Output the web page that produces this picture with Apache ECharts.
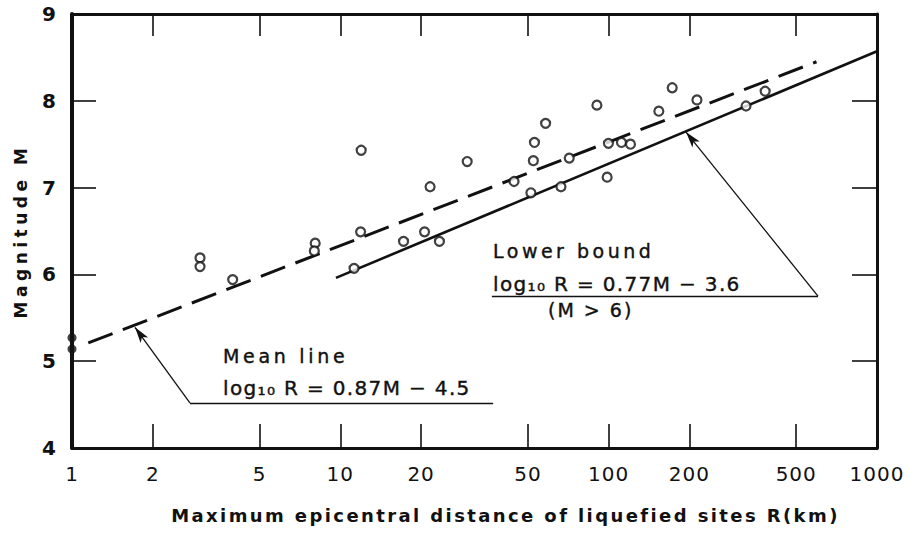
<!DOCTYPE html>
<html><head><meta charset="utf-8">
<script src="https://cdn.jsdelivr.net/npm/echarts@6/dist/echarts.min.js"></script>
<style>html,body{margin:0;padding:0;background:#fff}#wrap{position:relative;width:919px;height:534px}#chart,#ticks{position:absolute;left:0;top:0;width:919px;height:534px}#ticks{pointer-events:none}</style>
</head><body><div id="wrap"><div id="chart"></div><div id="ticks"></div></div>
<script>
// ---- data ----
const xTickLabels = [1, 2, 5, 10, 20, 50, 100, 200, 500, 1000];
const xTickMarks = [2, 5, 10, 20, 50, 100, 200, 500];
const yMin = 4, yMax = 9, xMin = 1, xMax = 1000;

// open circles: R (km) and M
const openR = [3.0, 3.0, 3.97, 8.06, 8.0, 11.25, 11.96, 11.9, 17.2, 20.6, 23.4, 21.6, 29.7, 44.4, 51.3, 52.4, 52.9, 58.2, 66.4, 71.3, 90.4, 98.7, 99.8, 111.6, 120.6, 153.8, 172.5, 213.3, 325, 383];
const openM = [6.19, 6.09, 5.94, 6.36, 6.27, 6.07, 7.43, 6.49, 6.38, 6.49, 6.38, 7.01, 7.30, 7.07, 6.94, 7.31, 7.52, 7.74, 7.01, 7.34, 7.95, 7.12, 7.51, 7.52, 7.50, 7.88, 8.15, 8.01, 7.94, 8.11];
// filled dots on the R = 1 axis
const filledR = [1, 1];
const filledM = [5.27, 5.14];
// mean line (dashed) end points
const meanLineR = [1.15, 595];
const meanLineM = [5.21, 8.45];
// lower bound (solid) end points
const lowerBoundR = [9.63, 1000];
const lowerBoundM = [5.96, 8.57];
// annotation leaders: underline end, corner, arrow tip
const meanLeaderR = [37.1, 2.75, 1.717];
const meanLeaderM = [4.52, 4.52, 5.39];
const lowerLeaderR = [36.7, 602.6, 194.2];
const lowerLeaderM = [5.75, 5.75, 7.64];

const FONT = 'DejaVu Sans';
const INK = '#111';
const GRID = {left: 72, right: 42, top: 14, bottom: 86};

const pairs = (xs, ys) => xs.map((x, i) => [x, ys[i]]);
function seg(a, b, endSymbol) {
  return [{coord: a, symbol: 'none'}, {coord: b, symbol: endSymbol || 'none', symbolSize: [7, 16]}];
}
function leader(xs, ys) {
  return [seg([xs[0], ys[0]], [xs[1], ys[1]]), seg([xs[1], ys[1]], [xs[2], ys[2]], 'arrow')];
}

// ---------- main chart ----------
const chart = echarts.init(document.getElementById('chart'), null, {renderer: 'svg'});

const xBase = {
  type: 'log', logBase: 10, min: xMin, max: xMax, gridIndex: 0,
  splitLine: {show: false}, minorTick: {show: false}, minorSplitLine: {show: false},
  axisTick: {show: false},
  axisLine: {show: true, lineStyle: {color: INK, width: 3}}
};
const yBase = {
  type: 'value', min: yMin, max: yMax, interval: 1, gridIndex: 0,
  splitLine: {show: false}, axisTick: {show: false}
};

chart.setOption({
  animation: false,
  backgroundColor: '#fff',
  textStyle: {fontFamily: FONT, color: INK},
  grid: GRID,
  xAxis: [
    Object.assign({}, xBase, {
      position: 'bottom',
      axisLabel: {show: true, customValues: xTickLabels, formatter: v => String(Math.round(v)),
        margin: 16, fontSize: 20, fontFamily: FONT, color: INK},
      name: 'Maximum epicentral distance of liquefied sites R(km)',
      nameLocation: 'middle', nameGap: 58,
      nameTextStyle: {fontSize: 18, fontWeight: 'bold', fontFamily: FONT, color: INK, padding: [0, 0, 0, 62]}
    }),
    Object.assign({}, xBase, {position: 'top', axisLabel: {show: false}})
  ],
  yAxis: [
    Object.assign({}, yBase, {
      position: 'left',
      axisLine: {show: true, lineStyle: {color: INK, width: 4}},
      axisLabel: {show: true, margin: 15, fontSize: 20, fontWeight: 'bold', fontFamily: FONT, color: INK},
      name: 'Magnitude M', nameLocation: 'middle', nameGap: 43,
      nameTextStyle: {fontSize: 17, fontWeight: 'bold', fontFamily: FONT, color: INK}
    }),
    Object.assign({}, yBase, {
      position: 'right',
      axisLine: {show: true, lineStyle: {color: INK, width: 3}},
      axisLabel: {show: false}
    })
  ],
  series: [
    {
      name: 'Mean line', type: 'line', xAxisIndex: 0, yAxisIndex: 0,
      data: pairs(meanLineR, meanLineM), showSymbol: false, symbol: 'none', silent: true,
      lineStyle: {color: INK, width: 3, type: [26, 11]}, z: 2,
      markLine: {silent: true, symbol: 'none', label: {show: false},
        lineStyle: {color: INK, width: 1.3, type: 'solid'}, data: leader(meanLeaderR, meanLeaderM)}
    },
    {
      name: 'Lower bound', type: 'line', xAxisIndex: 0, yAxisIndex: 0,
      data: pairs(lowerBoundR, lowerBoundM), showSymbol: false, symbol: 'none', silent: true,
      lineStyle: {color: INK, width: 2.6, type: 'solid'}, z: 2,
      markLine: {silent: true, symbol: 'none', label: {show: false},
        lineStyle: {color: INK, width: 1.3, type: 'solid'}, data: leader(lowerLeaderR, lowerLeaderM)}
    },
    {
      name: 'Liquefaction cases', type: 'scatter', xAxisIndex: 0, yAxisIndex: 0,
      data: pairs(openR, openM), symbol: 'circle', symbolSize: 9, silent: true, z: 5,
      itemStyle: {color: '#fff', borderColor: INK, borderWidth: 2.2}
    },
    {
      name: 'Filled', type: 'scatter', xAxisIndex: 0, yAxisIndex: 0,
      data: pairs(filledR, filledM), symbol: 'circle', symbolSize: 9, silent: true, z: 6,
      itemStyle: {color: INK}
    }
  ],
  graphic: [
    {type: 'text', x: 493, y: 251, silent: true, style: {text: 'Lower bound', fill: INK, stroke: INK, lineWidth: 0.4, font: '19px "DejaVu Sans"', align: 'left', verticalAlign: 'middle'}},
    {type: 'text', x: 493, y: 284, silent: true, style: {text: 'log\u2081\u2080 R = 0.77M \u2212 3.6', fill: INK, stroke: INK, lineWidth: 0.4, font: '20px "DejaVu Sans"', align: 'left', verticalAlign: 'middle'}},
    {type: 'text', x: 548, y: 310, silent: true, style: {text: '(M > 6)', fill: INK, stroke: INK, lineWidth: 0.4, font: '19px "DejaVu Sans"', align: 'left', verticalAlign: 'middle'}},
    {type: 'text', x: 223, y: 356, silent: true, style: {text: 'Mean line', fill: INK, stroke: INK, lineWidth: 0.4, font: '19px "DejaVu Sans"', align: 'left', verticalAlign: 'middle'}},
    {type: 'text', x: 223, y: 388, silent: true, style: {text: 'log\u2081\u2080 R = 0.87M \u2212 4.5', fill: INK, stroke: INK, lineWidth: 0.4, font: '20px "DejaVu Sans"', align: 'left', verticalAlign: 'middle'}}
  ]
});

// ---------- tick overlay (same grid and scales, only inward ticks) ----------
const tickChart = echarts.init(document.getElementById('ticks'), null, {renderer: 'svg'});
const tickLine = {color: INK, width: 1.6};
tickChart.setOption({
  animation: false,
  grid: GRID,
  xAxis: [
    {type: 'log', min: xMin, max: xMax, position: 'bottom', axisLine: {show: false}, splitLine: {show: false},
      axisLabel: {show: false}, axisTick: {show: true, inside: true, length: 24, customValues: xTickMarks, lineStyle: tickLine}},
    {type: 'log', min: xMin, max: xMax, position: 'top', axisLine: {show: false}, splitLine: {show: false},
      axisLabel: {show: false}, axisTick: {show: true, inside: true, length: 22, customValues: xTickMarks, lineStyle: tickLine}}
  ],
  yAxis: [
    {type: 'value', min: yMin, max: yMax, interval: 1, position: 'left', axisLine: {show: false}, splitLine: {show: false},
      axisLabel: {show: false}, axisTick: {show: true, inside: true, length: 24, lineStyle: tickLine}},
    {type: 'value', min: yMin, max: yMax, interval: 1, position: 'right', axisLine: {show: false}, splitLine: {show: false},
      axisLabel: {show: false}, axisTick: {show: true, inside: true, length: 25, lineStyle: tickLine}}
  ],
  series: []
});

const spacing = {
  'Magnitude M': '4.5px',
  'Lower bound': '3.5px',
  'Mean line': '3.7px',
  '(M > 6)': '2px'
};
function applySpacing() {
  document.querySelectorAll('#chart svg text').forEach(t => {
    const s = t.textContent;
    let ls = '2px';
    if (spacing[s]) ls = spacing[s];
    else if (/^\d+$/.test(s)) ls = '1px';
    else if (s.indexOf('Maximum') === 0) ls = '2.4px';
    else if (s.indexOf('log') === 0) ls = '1.35px';
    t.style.letterSpacing = ls;
  });
}
chart.on('finished', applySpacing);
applySpacing();
setTimeout(applySpacing, 50);
</script></body></html>
